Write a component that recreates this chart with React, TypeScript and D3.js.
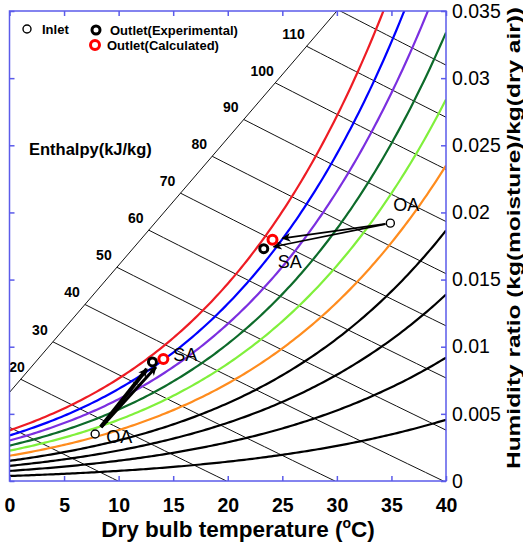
import React, { useEffect, useRef } from "react";
import * as d3 from "d3";

// relative humidity curves (%) and their colours
const rhLevels = [100, 90, 80, 70, 60, 50, 40, 30, 20, 10];
const rhColors = ["#ee1c24", "#0000ff", "#7b2fe0", "#0d6b2a", "#80f03c", "#ff8c1e", "#000", "#000", "#000", "#000"];

// enthalpy lines (kJ/kg) and the ones that carry a label
const enthalpyLevels = [10, 20, 30, 40, 50, 60, 70, 80, 90, 100, 110, 120];
const enthalpyLabels = [20, 30, 40, 50, 60, 70, 80, 90, 100, 110];

// the slanted enthalpy scale line (T, w) end points
const diagT = [0, 30];
const diagW = [0.0066, 0.035];

// measured states: [summer, winter]
const inletT = [34.9, 7.85];
const inletW = [0.0192, 0.0035];
const expT = [23.3, 13.1];
const expW = [0.0173, 0.00887];
const calcT = [24.1, 14.1];
const calcW = [0.01796, 0.00909];

const xTicks = [0, 5, 10, 15, 20, 25, 30, 35, 40];
const yTicks = [0, 0.005, 0.01, 0.015, 0.02, 0.025, 0.03, 0.035];

const pws = (t: number) => 0.61078 * Math.exp((17.27 * t) / (t + 237.3));
const wFromRh = (t: number, rh: number) => {
  const p = (rh / 100) * pws(t);
  return (0.622 * p) / (101.325 - p);
};
const hOf = (t: number, w: number) => 1.006 * t + w * (2501 + 1.86 * t);
const wFromH = (t: number, h: number) => (h - 1.006 * t) / (2501 + 1.86 * t);

const FONT = "'Liberation Sans', Arial, sans-serif";

const Psychro = () => {
  const svgRef = useRef<SVGSVGElement>(null);

  useEffect(() => {
    const svg = d3.select(svgRef.current);
    svg.selectAll("*").remove();

    const x = d3.scaleLinear().domain([0, 40]).range([9.5, 446]);
    const y = d3.scaleLinear().domain([0, 0.035]).range([481, 11]);
    const diag = d3.scaleLinear().domain(diagT).range(diagW);

    const defs = svg.append("defs");
    defs
      .append("clipPath")
      .attr("id", "plot")
      .append("rect")
      .attr("x", x(0))
      .attr("y", y(0.035))
      .attr("width", x(40) - x(0))
      .attr("height", y(0) - y(0.035));
    defs
      .append("marker")
      .attr("id", "head")
      .attr("viewBox", "0 0 10 10")
      .attr("refX", 9)
      .attr("refY", 5)
      .attr("markerWidth", 12)
      .attr("markerHeight", 9)
      .attr("markerUnits", "userSpaceOnUse")
      .attr("orient", "auto")
      .append("path")
      .attr("d", "M0,0 L10,5 L0,10 L3,5 Z")
      .attr("fill", "#000");

    const plot = svg.append("g").attr("clip-path", "url(#plot)");
    const line = d3
      .line<[number, number]>()
      .x((d) => x(d[0]))
      .y((d) => y(d[1]));

    // enthalpy lines
    enthalpyLevels.forEach((h) => {
      const f = (t: number) => hOf(t, diag(t)) - h;
      let t0 = 0;
      if (f(0) < 0) {
        let lo = 0,
          hi = 40;
        for (let i = 0; i < 50; i++) {
          const m = (lo + hi) / 2;
          if (f(m) < 0) lo = m;
          else hi = m;
        }
        t0 = lo;
      }
      const tEnd = Math.min(40, h / 1.006);
      const pts: [number, number][] = d3.range(0, 21).map((i) => {
        const t = t0 + ((tEnd - t0) * i) / 20;
        return [t, Math.max(0, wFromH(t, h))];
      });
      plot
        .append("path")
        .attr("d", line(pts))
        .attr("fill", "none")
        .attr("stroke", "#111")
        .attr("stroke-width", 1);
      if (enthalpyLabels.includes(h)) {
        svg
          .append("text")
          .attr("x", Math.max(17, x(t0) - 13))
          .attr("y", y(diag(t0)) - 12)
          .attr("text-anchor", "middle")
          .attr("dominant-baseline", "central")
          .attr("font-family", FONT)
          .attr("font-weight", "bold")
          .attr("font-size", 14)
          .text(h);
      }
    });

    // diagonal scale line
    plot
      .append("path")
      .attr("d", line([[diagT[0], diagW[0]], [diagT[1], diagW[1]]]))
      .attr("stroke", "#111")
      .attr("stroke-width", 1);

    // relative humidity curves
    rhLevels.forEach((rh, i) => {
      const pts: [number, number][] = d3.range(0, 40.01, 0.25).map((t) => [t, wFromRh(t, rh)]);
      plot
        .append("path")
        .attr("d", line(pts))
        .attr("fill", "none")
        .attr("stroke", rhColors[i])
        .attr("stroke-width", 2.2);
    });

    // arrows
    const arrow = (t1: number, w1: number, t2: number, w2: number, a: number, b: number, sw: number) => {
      const x1 = x(t1), y1 = y(w1), x2 = x(t2), y2 = y(w2);
      const len = Math.hypot(x2 - x1, y2 - y1);
      const ux = (x2 - x1) / len, uy = (y2 - y1) / len;
      svg
        .append("line")
        .attr("x1", x1 + ux * a)
        .attr("y1", y1 + uy * a)
        .attr("x2", x2 - ux * b)
        .attr("y2", y2 - uy * b)
        .attr("stroke", "#000")
        .attr("stroke-width", sw)
        .attr("marker-end", "url(#head)");
    };
    arrow(inletT[0], inletW[0], expT[0], expW[0], 5, 10, 1.7);
    arrow(inletT[0], inletW[0], calcT[0], calcW[0], 5, 10, 1.7);
    arrow(inletT[1], inletW[1], expT[1], expW[1], 9, 9, 4);
    arrow(inletT[1], inletW[1], calcT[1], calcW[1], 9, 11, 3);

    // state points
    const marker = (cx: number, cy: number, kind: string) => {
      svg
        .append("circle")
        .attr("cx", cx)
        .attr("cy", cy)
        .attr("r", kind === "calc" ? 4.5 : 4)
        .attr("fill", "#fff")
        .attr("stroke", kind === "calc" ? "#ff0000" : "#000")
        .attr("stroke-width", kind === "in" ? 1.4 : 3);
    };
    inletT.forEach((t, i) => marker(x(t), y(inletW[i]), "in"));
    expT.forEach((t, i) => marker(x(t), y(expW[i]), "exp"));
    calcT.forEach((t, i) => marker(x(t), y(calcW[i]), "calc"));

    const label = (tx: number, ty: number, s: string) =>
      svg
        .append("text")
        .attr("x", tx)
        .attr("y", ty)
        .attr("text-anchor", "middle")
        .attr("dominant-baseline", "central")
        .attr("font-family", FONT)
        .attr("font-size", 18)
        .text(s);
    label(x(inletT[0]) + 16, y(inletW[0]) - 18, "OA");
    label(x(expT[0]) + 26, y(expW[0]) + 13, "SA");
    label(x(calcT[1]) + 22, y(calcW[1]) - 4, "SA");
    label(x(inletT[1]) + 24, y(inletW[1]) + 3, "OA");

    // frame and ticks
    const blue = "#5b5bea";
    svg
      .append("rect")
      .attr("x", x(0))
      .attr("y", y(0.035))
      .attr("width", x(40) - x(0))
      .attr("height", y(0) - y(0.035))
      .attr("fill", "none")
      .attr("stroke", blue)
      .attr("stroke-width", 1.5);

    const bottom = svg
      .append("g")
      .attr("transform", `translate(0,${y(0)})`)
      .call(d3.axisBottom(x).tickValues(xTicks).tickSize(-5).tickPadding(17));
    const top = svg
      .append("g")
      .attr("transform", `translate(0,${y(0.035)})`)
      .call(d3.axisTop(x).tickValues(xTicks).tickSize(-5).tickFormat(() => ""));
    const left = svg
      .append("g")
      .attr("transform", `translate(${x(0)},0)`)
      .call(d3.axisLeft(y).tickValues(yTicks).tickSize(-5).tickFormat(() => ""));
    const right = svg
      .append("g")
      .attr("transform", `translate(${x(40)},0)`)
      .call(
        d3
          .axisRight(y)
          .tickValues(yTicks)
          .tickSize(-5)
          .tickPadding(6)
          .tickFormat((d) => String(+(+d).toFixed(3)))
      );
    [bottom, top, left, right].forEach((g) => {
      g.select(".domain").remove();
      g.selectAll(".tick line").attr("stroke", blue).attr("stroke-width", 1.5);
      g.selectAll(".tick text")
        .attr("font-family", FONT)
        .attr("font-size", 19.5)
        .attr("fill", "#000");
    });
    bottom.selectAll(".tick text").attr("font-weight", "bold");

    // axis titles
    const xt = svg
      .append("text")
      .attr("x", 238)
      .attr("y", 537)
      .attr("text-anchor", "middle")
      .attr("font-family", FONT)
      .attr("font-weight", "bold")
      .attr("font-size", 22.5);
    xt.append("tspan").text("Dry bulb temperature (");
    xt.append("tspan").attr("font-size", 14).attr("dy", -9).text("o");
    xt.append("tspan").attr("dy", 9).text("C)");

    svg
      .append("text")
      .attr("transform", "translate(520,238) rotate(-90)")
      .attr("text-anchor", "middle")
      .attr("font-family", FONT)
      .attr("font-weight", "bold")
      .attr("font-size", 19)
      .attr("textLength", 462)
      .attr("lengthAdjust", "spacingAndGlyphs")
      .text("Humidity ratio (kg(moisture)/kg(dry air))");

    svg
      .append("text")
      .attr("x", 29)
      .attr("y", 155)
      .attr("font-family", FONT)
      .attr("font-weight", "bold")
      .attr("font-size", 16.5)
      .text("Enthalpy(kJ/kg)");

    // legend
    marker(27, 29, "in");
    marker(96, 30, "exp");
    marker(95, 45, "calc");
    const leg = (lx: number, ly: number, s: string) =>
      svg
        .append("text")
        .attr("x", lx)
        .attr("y", ly)
        .attr("font-family", FONT)
        .attr("font-weight", "bold")
        .attr("font-size", 13)
        .text(s);
    leg(42, 34, "Inlet");
    leg(110, 35, "Outlet(Experimental)");
    leg(107, 50, "Outlet(Calculated)");
  }, []);

  return (
    <svg
      ref={svgRef}
      width={523}
      height={543}
      style={{ position: "absolute", left: 0, top: 0, background: "#fff" }}
    />
  );
};

export default function App() {
  return <Psychro />;
}
